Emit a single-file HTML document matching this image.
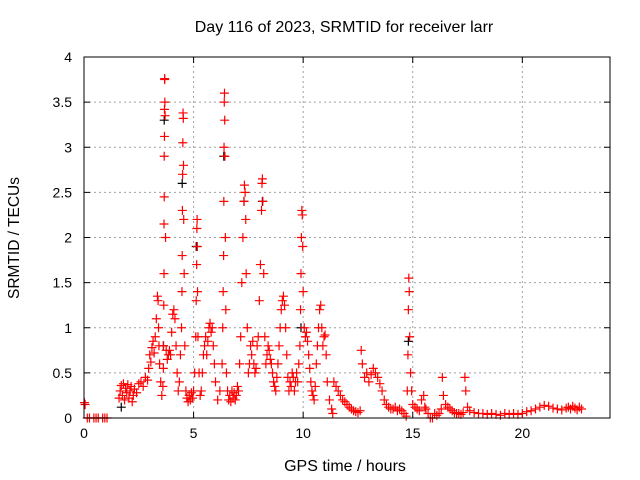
<!DOCTYPE html>
<html><head><meta charset="utf-8"><style>
html,body{margin:0;padding:0;background:#fff;}
svg{display:block;font-family:"Liberation Sans",sans-serif;}
</style></head><body>
<svg id="chart" width="640" height="480" viewBox="0 0 640 480" xmlns="http://www.w3.org/2000/svg">
<rect width="640" height="480" fill="#fff"/>
<text x="344" y="32" font-size="16" text-anchor="middle">Day 116 of 2023, SRMTID for receiver larr</text>
<text transform="translate(19,238) rotate(-90)" font-size="15.5" text-anchor="middle">SRMTID / TECUs</text>
<text x="345" y="471" font-size="16" text-anchor="middle">GPS time / hours</text>
<g id="grid"></g>
<g id="ticks"></g>
<g id="marks"></g>
<rect x="84" y="57" width="526" height="361" fill="none" stroke="#000" stroke-width="1"/>
</svg>
<script>
const xTicks = [0,5,10,15,20];
const yTicks = [0,0.5,1,1.5,2,2.5,3,3.5,4];
const yTickLabels = ["0","0.5","1","1.5","2","2.5","3","3.5","4"];
const hours = [
0.02,0.05,0.15,0.25,0.45,0.55,0.65,0.85,0.95,1.05,
1.6,1.65,1.7,1.75,1.8,1.85,1.9,1.95,2.0,2.05,
2.1,2.15,2.2,2.25,2.3,2.4,2.5,2.6,2.7,2.8,
2.9,2.95,3.0,3.05,3.1,3.15,3.2,3.25,3.3,3.35,
3.38,3.4,3.42,3.45,3.5,3.55,3.6,3.62,3.63,3.64,
3.65,3.65,3.66,3.66,3.67,3.67,3.68,3.68,3.69,3.7,
3.72,3.75,3.8,3.85,3.9,3.95,4.0,4.05,4.1,4.15,
4.2,4.25,4.3,4.35,4.4,4.45,4.47,4.48,4.49,4.5,
4.51,4.52,4.53,4.54,4.55,4.57,4.6,4.65,4.7,4.75,
4.8,4.85,4.9,4.95,5.0,5.05,5.1,5.12,5.14,5.15,
5.16,5.17,5.18,5.2,5.25,5.3,5.35,5.4,5.45,5.5,
5.55,5.6,5.65,5.7,5.75,5.8,5.85,5.9,5.95,6.0,
6.1,6.2,6.3,6.33,6.35,6.37,6.38,6.39,6.4,6.41,
6.42,6.43,6.45,6.47,6.5,6.55,6.6,6.65,6.7,6.75,
6.8,6.85,6.9,6.95,7.0,7.05,7.1,7.15,7.2,7.25,
7.3,7.32,7.35,7.38,7.4,7.45,7.5,7.55,7.6,7.65,
7.7,7.75,7.8,7.85,7.9,7.95,8.0,8.05,8.1,8.12,
8.14,8.16,8.2,8.25,8.3,8.35,8.4,8.45,8.5,8.55,
8.6,8.65,8.7,8.75,8.8,8.85,8.9,8.95,9.0,9.05,
9.1,9.15,9.2,9.25,9.3,9.35,9.4,9.45,9.5,9.55,
9.6,9.65,9.7,9.75,9.8,9.85,9.88,9.9,9.92,9.94,
9.96,9.98,10.0,10.05,10.1,10.15,10.2,10.25,10.3,10.35,
10.4,10.45,10.5,10.55,10.6,10.65,10.7,10.75,10.8,10.85,
10.9,10.95,11.0,11.05,11.1,11.2,11.3,11.35,11.4,11.5,
11.6,11.7,11.8,11.9,12.0,12.1,12.2,12.3,12.4,12.5,
12.6,12.65,12.7,12.8,12.9,13.0,13.1,13.2,13.3,13.4,
13.5,13.6,13.7,13.8,13.9,14.0,14.1,14.2,14.3,14.4,
14.5,14.6,14.7,14.75,14.78,14.8,14.82,14.84,14.86,14.9,
14.95,15.0,15.1,15.2,15.3,15.4,15.5,15.55,15.6,15.7,
15.8,15.9,16.0,16.1,16.2,16.3,16.35,16.4,16.5,16.6,
16.7,16.8,16.9,17.0,17.1,17.2,17.3,17.38,17.42,17.5,
17.6,17.8,18.0,18.2,18.4,18.6,18.8,19.0,19.2,19.4,
19.6,19.8,20.0,20.2,20.4,20.6,20.8,21.0,21.2,21.4,
21.6,21.8,22.0,22.1,22.2,22.3,22.4,22.5,22.6,22.7];
const tec = [
0.17,0.15,0.00,0.00,0.00,0.00,0.00,0.00,0.00,0.00,
0.22,0.30,0.36,0.25,0.38,0.20,0.33,0.28,0.37,0.22,
0.30,0.35,0.18,0.25,0.32,0.28,0.38,0.40,0.35,0.45,
0.42,0.55,0.70,0.62,0.78,0.85,0.72,0.90,1.10,1.35,
1.30,1.00,0.80,0.60,0.40,0.25,0.35,0.55,0.80,1.25,
1.60,2.15,2.45,2.90,3.12,3.42,3.75,3.76,3.50,3.35,
2.00,0.75,0.65,0.70,0.75,0.70,0.95,1.15,1.20,1.10,
0.80,0.50,0.30,0.40,0.70,1.00,1.40,1.80,2.30,2.70,
3.05,3.38,3.32,2.80,2.20,1.60,0.80,0.30,0.22,0.18,
0.25,0.20,0.28,0.22,0.30,0.50,0.90,1.30,1.70,2.10,
2.20,1.90,1.40,0.90,0.50,0.25,0.30,0.50,0.70,0.80,
0.90,0.70,0.85,1.00,1.05,0.95,1.00,0.80,0.60,0.40,
0.20,0.30,0.60,1.00,1.40,1.80,2.40,3.00,3.50,3.60,
3.30,2.90,2.00,1.20,0.50,0.30,0.20,0.25,0.18,0.30,
0.22,0.28,0.20,0.25,0.35,0.30,0.60,0.90,1.50,2.00,
2.40,2.58,2.50,2.20,1.60,1.00,0.50,0.60,0.80,0.70,
0.85,0.60,0.50,0.55,0.80,0.90,1.30,1.70,2.30,2.60,
2.65,2.40,1.60,0.90,0.60,0.70,0.80,0.75,0.65,0.60,
0.50,0.40,0.35,0.30,0.45,0.60,0.80,1.00,1.20,1.30,
1.35,1.25,1.00,0.70,0.45,0.30,0.40,0.35,0.50,0.45,
0.30,0.40,0.50,0.40,0.60,0.80,1.20,1.60,2.00,2.30,
2.25,1.90,1.40,1.00,0.90,0.95,0.85,0.70,0.55,0.40,
0.30,0.25,0.20,0.35,0.60,0.80,1.00,1.20,1.25,1.00,
0.80,0.90,0.92,0.70,0.40,0.20,0.10,0.05,0.40,0.35,
0.30,0.25,0.20,0.18,0.15,0.12,0.10,0.08,0.07,0.06,
0.08,0.75,0.60,0.45,0.50,0.40,0.48,0.55,0.50,0.45,
0.38,0.30,0.20,0.15,0.12,0.10,0.10,0.12,0.08,0.10,
0.08,0.05,0.02,0.30,0.70,1.20,1.55,1.40,0.90,0.50,
0.30,0.15,0.12,0.10,0.08,0.20,0.25,0.12,0.10,0.05,
0.00,0.00,0.05,0.03,0.05,0.10,0.45,0.25,0.15,0.12,
0.10,0.08,0.06,0.05,0.05,0.04,0.06,0.45,0.30,0.12,
0.08,0.06,0.05,0.05,0.04,0.05,0.04,0.03,0.05,0.04,
0.05,0.04,0.05,0.07,0.08,0.10,0.12,0.14,0.13,0.11,
0.10,0.09,0.11,0.12,0.10,0.13,0.11,0.09,0.12,0.10];
const blackHours = [3.62,3.66,4.48,5.12,6.38,7.3,8.14,9.9,14.8,1.7];
const blackTec = [0.80,3.30,2.60,1.90,2.90,2.40,2.40,1.00,0.85,0.12];

const X0=84,X1=610,Y0=418,Y1=57;
function xs(h){return X0+(h/24)*(X1-X0);}
function ys(v){return Y0-(v/4)*(Y0-Y1);}
const NS='http://www.w3.org/2000/svg';
function mk(tag,attrs,parent){const e=document.createElementNS(NS,tag);for(const k in attrs)e.setAttribute(k,attrs[k]);parent.appendChild(e);return e;}
const grid=document.getElementById('grid'),ticks=document.getElementById('ticks'),marks=document.getElementById('marks');
xTicks.forEach(t=>{
  const x=xs(t);
  if(t>0){const g=mk('line',{x1:x,y1:Y0,x2:x,y2:Y1,stroke:'#a0a0a0','stroke-dasharray':'2,3'},grid);
  
  }
  mk('line',{x1:x,y1:Y0,x2:x,y2:Y0-6,stroke:'#000'},ticks);
  mk('line',{x1:x,y1:Y1,x2:x,y2:Y1+6,stroke:'#000'},ticks);
  const l=mk('text',{x:x,y:Y0+20,'font-size':14,'text-anchor':'middle'},ticks);
  l.textContent=String(t);
  
  
});
yTicks.forEach((t,i)=>{
  const y=ys(t);
  if(t>0&&t<4){const g=mk('line',{x1:X0,y1:y,x2:X1,y2:y,stroke:'#a0a0a0','stroke-dasharray':'2,3'},grid);
  
  }
  mk('line',{x1:X0,y1:y,x2:X0+6,y2:y,stroke:'#000'},ticks);
  mk('line',{x1:X1,y1:y,x2:X1-6,y2:y,stroke:'#000'},ticks);
  const l=mk('text',{x:X0-12,y:y+5,'font-size':14,'text-anchor':'end'},ticks);
  l.textContent=yTickLabels[i];
  
  
});
function plus(x,y,color,parent){
  return mk('path',{d:`M${x-4.5},${y}h9M${x},${y-4.5}v9`,stroke:color,'stroke-width':1.2,fill:'none'},parent);
}
blackHours.forEach((h,i)=>{
  const p=plus(xs(h),ys(blackTec[i]),'#000',marks);
  
  
});
hours.forEach((h,i)=>{
  const p=plus(xs(h),ys(tec[i]),'#f00',marks);
  
  
});
</script>
</body></html>
